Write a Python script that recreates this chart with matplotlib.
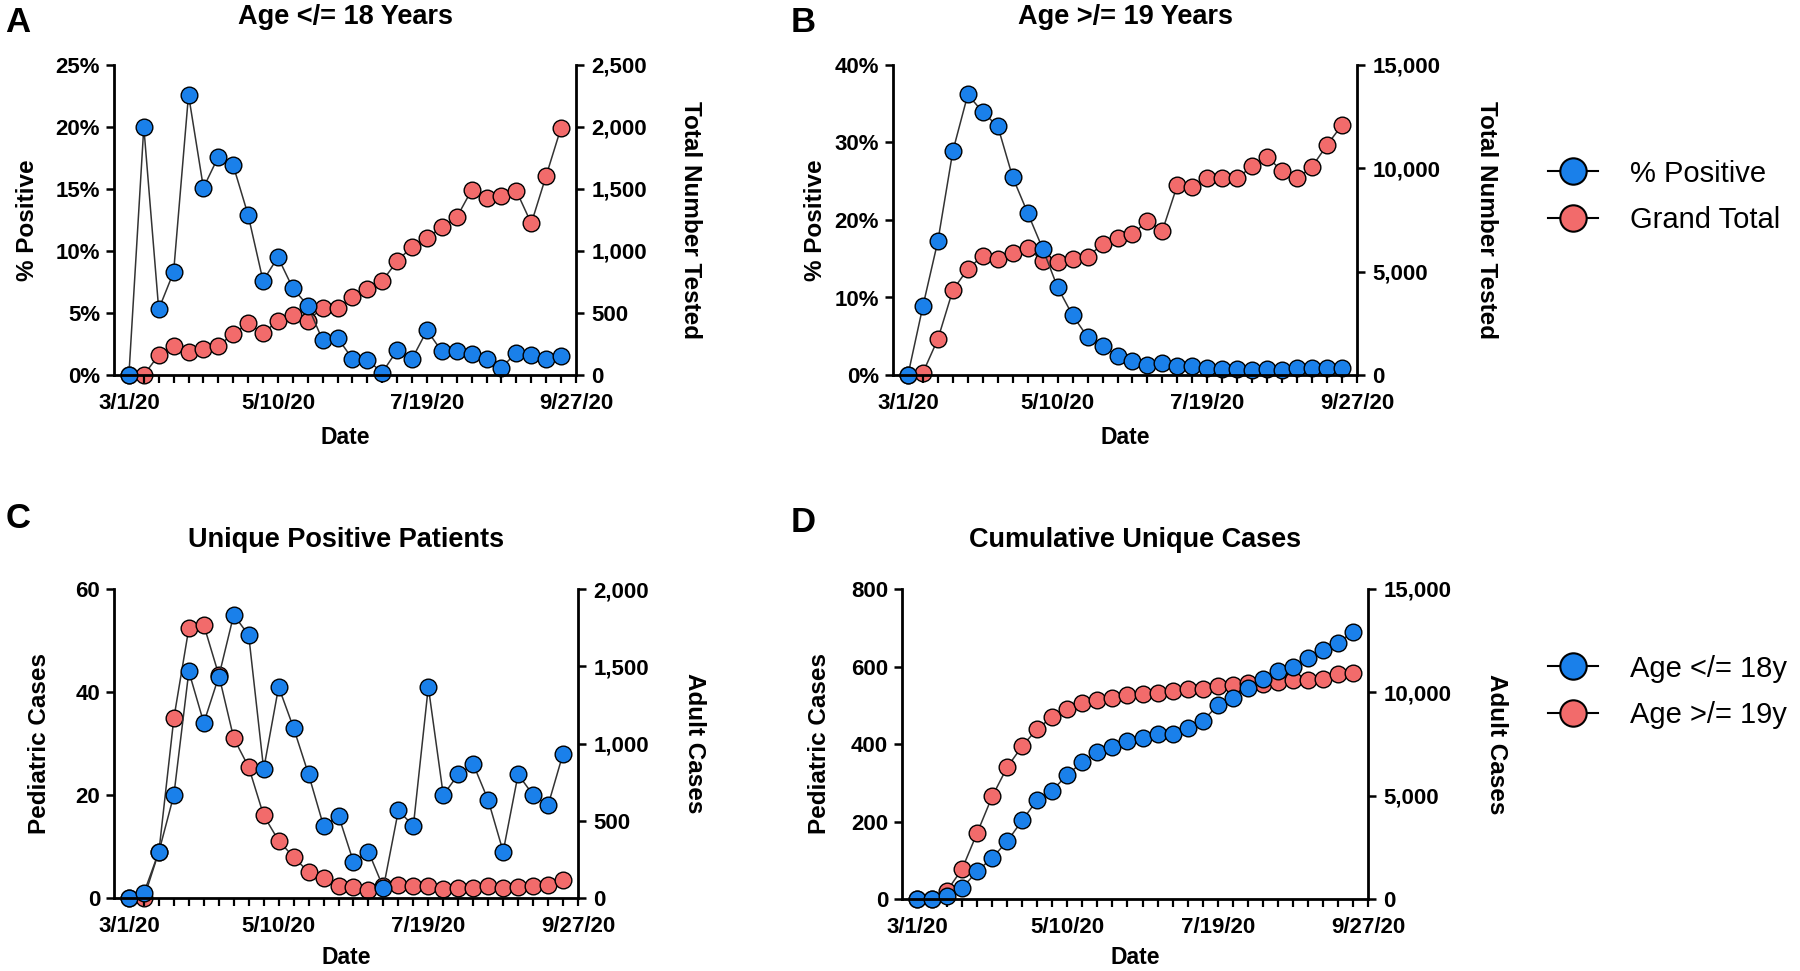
import matplotlib
matplotlib.use('Agg')
import matplotlib.pyplot as plt
from matplotlib.ticker import FuncFormatter
from matplotlib.lines import Line2D
import numpy as np
import pandas as pd

plt.rcParams['font.family'] = ['Liberation Sans', 'DejaVu Sans']
plt.rcParams['font.weight'] = 'bold'

# weekly data, 3/1/20 .. 9/20/20
weeks = pd.date_range('2020-03-01', periods=30, freq='7D')
tick_dates = pd.to_datetime(['2020-03-01', '2020-05-10', '2020-07-19', '2020-09-27'])
tick_labels = ['3/1/20', '5/10/20', '7/19/20', '9/27/20']

# A: age <= 18
ped_pct_pos = [0, 20, 5.3, 8.3, 22.6, 15.1, 17.6, 16.9, 12.9, 7.6, 9.5, 7.0, 5.6, 2.8, 3.0,
               1.3, 1.2, 0.2, 2.0, 1.3, 3.6, 1.9, 1.9, 1.7, 1.3, 0.6, 1.8, 1.6, 1.3, 1.5]
ped_tested = [0, 0, 161, 234, 188, 210, 237, 331, 417, 336, 438, 484, 438, 543, 543,
              626, 694, 758, 919, 1035, 1108, 1191, 1272, 1492, 1430, 1446, 1484, 1223, 1608, 1995]

# B: age >= 19
adult_pct_pos = [0, 8.9, 17.3, 28.9, 36.2, 33.9, 32.1, 25.5, 20.9, 16.3, 11.3, 7.7, 4.9, 3.7, 2.5,
                 1.8, 1.3, 1.5, 1.2, 1.1, 0.9, 0.8, 0.8, 0.7, 0.8, 0.6, 0.9, 0.9, 0.9, 0.9]
adult_tested = [0, 113, 1742, 4113, 5129, 5774, 5597, 5919, 6129, 5532, 5452, 5613, 5726, 6323, 6613,
                6806, 7468, 6984, 9194, 9081, 9516, 9516, 9516, 10113, 10532, 9887, 9516, 10081, 11129, 12097]

# C: unique positive patients per week
ped_cases = [0, 1, 9, 20, 44, 34, 43, 55, 51, 25, 41, 33, 24, 14, 16,
             7, 9, 2, 17, 14, 41, 20, 24, 26, 19, 9, 24, 20, 18, 28]
adult_cases = [0, 0, 300, 1164, 1746, 1767, 1444, 1034, 847, 534, 371, 265, 168, 129, 80,
               69, 54, 75, 86, 75, 80, 58, 65, 65, 75, 65, 71, 75, 82, 114]

# D: cumulative unique cases
ped_cum = [0, 0, 9, 28, 72, 106, 149, 203, 256, 280, 321, 353, 379, 392, 409,
           416, 425, 427, 442, 459, 500, 519, 545, 569, 589, 599, 622, 642, 661, 690]
adult_cum = [0, 0, 404, 1454, 3199, 4960, 6381, 7399, 8239, 8805, 9208, 9483, 9612, 9742, 9855,
             9903, 9984, 10048, 10145, 10178, 10291, 10339, 10468, 10420, 10501, 10582, 10614, 10662, 10872, 10937]

BLUE = '#1a80ea'
RED = '#f26b6b'
LINE = '#333333'
W, H = 1800, 971

fig = plt.figure(figsize=(18, 9.71), dpi=100)


def rect(l, t, r, b):
    return [l / W, 1 - b / H, (r - l) / W, (b - t) / H]


def pct(v, p):
    return '%d%%' % v


def comma(v, p):
    return '{:,}'.format(int(v))


def draw_panel(box, blue, red, lmax, lstep, rmax, rstep, lfmt):
    ax = fig.add_axes(rect(*box))
    ax2 = ax.twinx()
    ax.set_zorder(ax2.get_zorder() + 1)
    ax.patch.set_visible(False)
    ax2.plot(weeks, red, '-o', color=LINE, lw=1.1, ms=12, mfc=RED, mec='black', mew=1.0, clip_on=False)
    ax.plot(weeks, blue, '-o', color=LINE, lw=1.1, ms=12, mfc=BLUE, mec='black', mew=1.0, clip_on=False)
    ax.set_xlim(pd.Timestamp('2020-02-23'), pd.Timestamp('2020-09-27'))
    ax.set_ylim(0, lmax)
    ax2.set_ylim(0, rmax)
    ax.set_yticks(np.arange(0, lmax + 1, lstep))
    ax2.set_yticks(np.arange(0, rmax + 1, rstep))
    ax.yaxis.set_major_formatter(FuncFormatter(lfmt))
    ax2.yaxis.set_major_formatter(FuncFormatter(comma))
    ax.set_xticks(tick_dates)
    ax.set_xticklabels(tick_labels)
    ax.set_xticks(pd.date_range('2020-03-01', '2020-09-27', freq='7D'), minor=True)
    for a in (ax, ax2):
        for s in a.spines.values():
            s.set_linewidth(2.0)
        a.spines['top'].set_visible(False)
    ax.spines['right'].set_visible(False)
    ax2.spines['left'].set_visible(False)
    ax2.spines['bottom'].set_visible(False)
    ax.tick_params(axis='x', which='both', length=6, width=1.6, labelsize=16, pad=7)
    ax.tick_params(axis='y', length=6, width=1.8, labelsize=16, pad=4)
    ax2.tick_params(axis='y', length=6, width=1.8, labelsize=16, pad=5)
    return ax, ax2


draw_panel((114, 65, 576, 375), ped_pct_pos, ped_tested, 25, 5, 2500, 500, pct)
draw_panel((893, 65, 1357, 375), adult_pct_pos, adult_tested, 40, 10, 15000, 5000, pct)
draw_panel((114, 589, 578, 898), ped_cases, adult_cases, 60, 20, 2000, 500, lambda v, p: '%d' % v)
draw_panel((902, 589, 1368, 899), ped_cum, adult_cum, 800, 200, 15000, 5000, lambda v, p: '%d' % v)


def ftext(x, y, s, **kw):
    fig.text(x / W, 1 - y / H, s, ha='center', va='center', **kw)


# panel letters and titles
for x, y, s in [(18, 22, 'A'), (803, 22, 'B'), (18, 518, 'C'), (803, 522, 'D')]:
    ftext(x, y, s, fontsize=25, fontweight='bold')
for x, y, s in [(345, 17, 'Age </= 18 Years'), (1125, 17, 'Age >/= 19 Years'),
                (346, 540, 'Unique Positive Patients'), (1135, 540, 'Cumulative Unique Cases')]:
    ftext(x, y, s, fontsize=19.5, fontweight='bold')

# axis labels
for x, y in [(345, 437), (1125, 437), (346, 957), (1135, 957)]:
    ftext(x, y, 'Date', fontsize=16.5, fontweight='bold')
for x, y, s in [(27, 220, '% Positive'), (815, 220, '% Positive'),
                (40, 743, 'Pediatric Cases'), (819, 744, 'Pediatric Cases')]:
    ftext(x, y, s, fontsize=17.5, fontweight='bold', rotation=90)
for x, y, s in [(691, 220, 'Total Number Tested'), (1487, 220, 'Total Number Tested'),
                (694, 743, 'Adult Cases'), (1497, 744, 'Adult Cases')]:
    ftext(x, y, s, fontsize=17.5, fontweight='bold', rotation=270)


def handle(c):
    return Line2D([], [], color='black', lw=1.5, marker='o', ms=19, mfc=c, mec='black', mew=1.5)


leg_opts = dict(loc='center left', frameon=False, prop={'size': 21, 'weight': 'normal'},
                handlelength=1.7, handletextpad=1.1, labelspacing=0.65, borderpad=0, borderaxespad=0)
fig.legend([handle(BLUE), handle(RED)], ['% Positive', 'Grand Total'],
           bbox_to_anchor=(1548 / W, 1 - 197 / H), **leg_opts)
fig.legend([handle(BLUE), handle(RED)], ['Age </= 18y', 'Age >/= 19y'],
           bbox_to_anchor=(1548 / W, 1 - 692 / H), **leg_opts)

fig.savefig('out.png', dpi=100)
